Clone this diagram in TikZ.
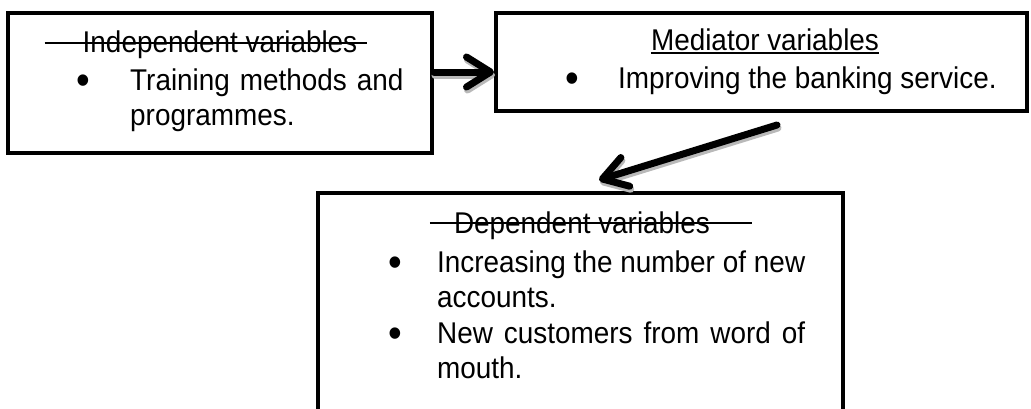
\documentclass[tikz,border=0pt]{standalone}
\usepackage{fontspec}
\setmainfont{Liberation Sans}[FakeStretch=0.93]
\usetikzlibrary{positioning,arrows.meta,calc}

\begin{document}
\begin{tikzpicture}[
    x=1pt, y=-1pt,
    box/.style={rectangle, draw=black, line width=4pt, inner sep=0pt},
    txt/.style={inner sep=0pt, font=\fontsize{30}{35.5}\selectfont},
    item/.style={txt, anchor=north west, align=left},
    dot/.style={inner sep=0pt, anchor=base, font=\fontsize{42}{42}\selectfont},
    strike/.style={line width=2pt},
    arrow/.style={-{Straight Barb[length=24pt, width=30pt, round]}, line width=7pt, line cap=round},
    shade/.style={arrow, draw=gray!55, transform canvas={shift={(1pt,-3pt)}}}
]
\useasboundingbox (0,0) rectangle (1031,408);

% Boxes
\node[box, minimum width=424pt, minimum height=140pt] (indep) at (220,83) {};
\node[box, minimum width=531pt, minimum height=98pt] (med) at (761.5,62) {};
\node[box, minimum width=525pt, minimum height=222pt] (dep) at (580.5,304) {};

% Independent
\node[txt, anchor=base] (indep-t) at (220,52) {Independent variables};
\draw[strike] ([shift={(-38pt,9pt)}]indep-t.base west) -- ([shift={(10pt,9pt)}]indep-t.base east);
\node[dot] (indep-b) at (83,94) {•};
\node[item, text width=280pt] (indep-i) at (130,65.15) {\strut Training methods and\\programmes.};

% Mediator
\node[txt, anchor=base] (med-t) at (765,50) {Mediator variables};
\draw[strike] ([yshift=-3pt]med-t.base west) -- ([yshift=-3pt]med-t.base east);
\node[dot] (med-b) at (572,92) {•};
\node[item] (med-i) at (618,63.15) {\strut Improving the banking service.};

% Dependent
\node[txt, anchor=base] (dep-t) at (582,233) {Dependent variables};
\draw[strike] ([shift={(-24pt,10pt)}]dep-t.base west) -- ([shift={(42pt,10pt)}]dep-t.base east);
\node[dot] (dep-b1) at (395,276) {•};
\node[item, text width=368pt, align=justify] (dep-i1) at (437,247.15) {\strut Increasing the number of new accounts.};
\node[dot] (dep-b2) at (395,347) {•};
\node[item, text width=368pt, align=justify] (dep-i2) at (437,318.15) {\strut New customers from word of mouth.};

% Arrows
\path ([yshift=11pt]indep.east) coordinate (a1);
\coordinate (a2s) at (777,125);
\coordinate (a2e) at (599,180);
\draw[shade] (a1) -- (a1 -| med.west);
\draw[arrow] (a1) -- (a1 -| med.west);
\draw[shade] (a2s) -- (a2e);
\draw[arrow] (a2s) -- (a2e);
\end{tikzpicture}
\end{document}
